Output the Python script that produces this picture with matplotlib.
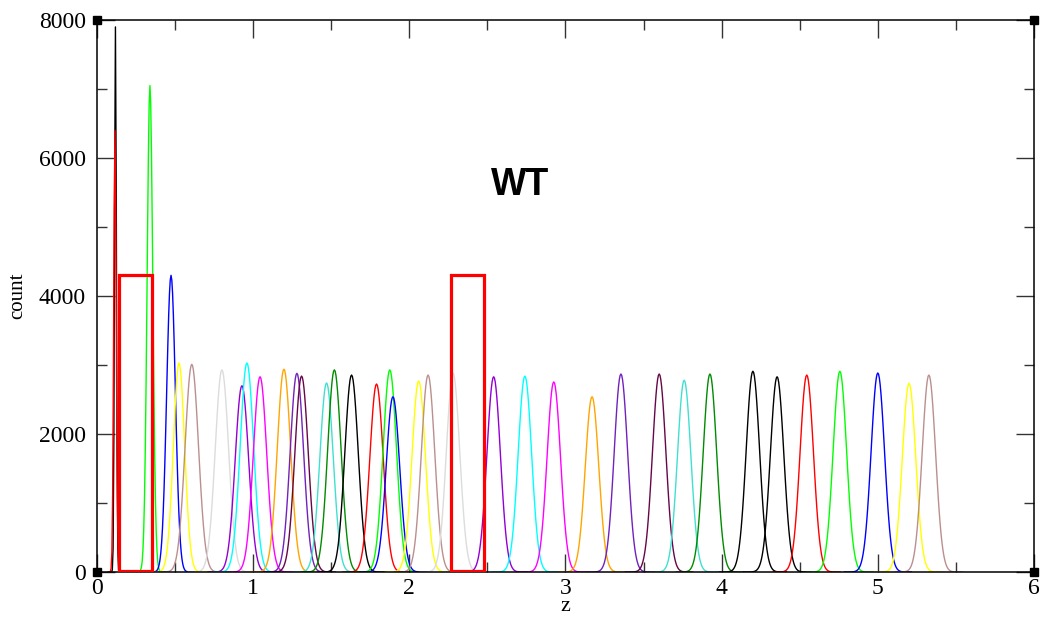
import numpy as np
import matplotlib
matplotlib.use("Agg")
import matplotlib.pyplot as plt
from matplotlib.ticker import MultipleLocator
from matplotlib.patches import Rectangle

# peak positions (z), heights (count) and widths
centers = [0.118, 0.115, 0.339, 0.474, 0.525, 0.607, 0.80, 0.928, 0.96, 1.044,
           1.197, 1.28, 1.31, 1.47, 1.52,
           1.63, 1.79, 1.875, 1.895, 2.06, 2.12, 2.28, 2.54, 2.74, 2.925,
           3.17, 3.355, 3.60, 3.76, 3.925,
           4.20, 4.355, 4.545, 4.757, 5.0, 5.2, 5.327]
heights = [7900, 6400, 7050, 4300, 3030, 3010, 2930, 2700, 3030, 2830,
           2940, 2880, 2840, 2740, 2930,
           2855, 2725, 2930, 2540, 2770, 2855, 2880, 2830, 2840, 2755,
           2540, 2870, 2870, 2780, 2870,
           2910, 2830, 2855, 2910, 2885, 2735, 2855]
widths = [0.006, 0.008, 0.018, 0.028, 0.036] + [0.043] * 32

# xmgrace default colour cycle
grace = ["#000000", "#ff0000", "#00ff00", "#0000ff", "#ffff00", "#bc8f8f",
         "#dcdcdc", "#9400d3", "#00ffff", "#ff00ff", "#ffa500", "#7221bc",
         "#670748", "#40e0d0", "#008b00"]
colors = grace + grace + ["#000000", "#000000", "#ff0000", "#00ff00",
                          "#0000ff", "#ffff00", "#bc8f8f"]

# highlighted windows (z range, count)
boxes_z = [(0.141, 0.352), (2.266, 2.478)]
box_top = 4300

fig = plt.figure(figsize=(10.42, 6.18), dpi=100)
ax = fig.add_axes([0.0931, 0.0744, 0.8992, 0.8932])

dz = 0.005
for c, h, w, col in zip(centers, heights, widths, colors):
    k = np.arange(-int(5 * w / dz) - 1, int(5 * w / dz) + 2)
    z = c + k * dz
    y = h * np.exp(-0.5 * ((z - c) / w) ** 2)
    ax.plot(z, y, color=col, lw=1.0)

for z0, z1 in boxes_z:
    ax.add_patch(Rectangle((z0, 20), z1 - z0, box_top - 20, fill=False,
                           edgecolor="#ff0000", lw=2.3, zorder=5))

ax.text(2.71, 5610, "WT", fontsize=27, fontweight="bold",
        family="Liberation Sans", ha="center", va="center")

ax.set_xlim(0, 6)
ax.set_ylim(0, 8000)
ax.xaxis.set_major_locator(MultipleLocator(1))
ax.xaxis.set_minor_locator(MultipleLocator(0.5))
ax.yaxis.set_major_locator(MultipleLocator(2000))
ax.yaxis.set_minor_locator(MultipleLocator(1000))
ax.tick_params(which="both", direction="in", top=True, right=True,
               width=1.0, color="#333333")
ax.tick_params(which="major", length=13)
ax.tick_params(which="minor", length=7)
ax.tick_params(axis="x", which="major", pad=4, labelsize=17)
ax.tick_params(axis="y", which="major", pad=8, labelsize=17)
for lab in ax.get_xticklabels() + ax.get_yticklabels():
    lab.set_family("Liberation Serif")
for s in ax.spines.values():
    s.set_linewidth(1.1)

ax.set_xlabel("z", fontsize=16, family="Liberation Serif", labelpad=-1)
ax.set_ylabel("count", fontsize=15, family="Liberation Serif", labelpad=8)

# grace selection markers at the corners
ax.plot([0, 0, 1, 1], [0, 1, 0, 1], "s", color="black", ms=6,
        transform=ax.transAxes, clip_on=False, zorder=6)

fig.savefig("out.png", dpi=100)
